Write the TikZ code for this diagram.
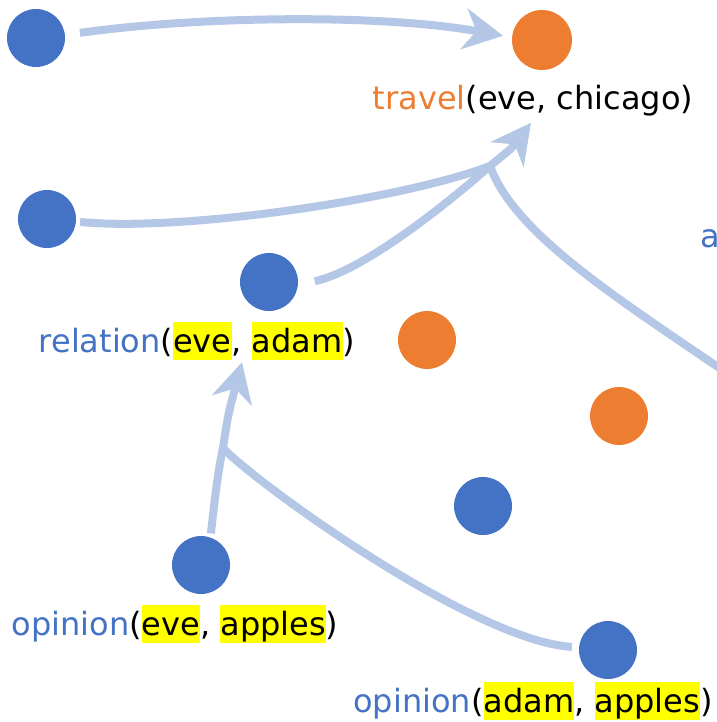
\documentclass[tikz,border=0pt]{standalone}
\usepackage{fontspec}
\setmainfont{DejaVu Sans}
\usepackage{xcolor}
\usepackage{tikz}
\usetikzlibrary{
  arrows.meta,
  positioning,
}

\definecolor{nodeblue}{HTML}{4472C4}
\definecolor{nodeorange}{HTML}{ED7D31}
\definecolor{linkblue}{HTML}{B4C7E7}
\definecolor{hlyellow}{HTML}{FFFF00}

\newcommand{\hlword}[1]{{\setlength{\fboxsep}{0pt}%
  \colorbox{hlyellow}{\rule[-0.25em]{0pt}{1.2em}#1}}}

\begin{document}
\begin{tikzpicture}[
  x=1pt, y=-1pt,
  font=\fontsize{32}{38}\selectfont,
  dot/.style={circle, minimum size=58pt, inner sep=0pt},
  bluedot/.style={dot, fill=nodeblue},
  orangedot/.style={dot, fill=nodeorange},
  atom/.style={anchor=base, inner sep=0pt},
  link/.style={draw=linkblue, line width=8pt},
  arrow/.style={link, -{Stealth[length=40pt, width=42pt, inset=13pt, line width=0pt]}},
]
\useasboundingbox (0,0) rectangle (716,722);

%% atoms
\node[bluedot] (src) at (36,38) {};
\node[orangedot, minimum size=60pt] (travel) at (542,40) {};
\node[bluedot] (left) at (47,219) {};
\node[bluedot] (rel) at (269,282) {};
\node[orangedot] (midA) at (427,340) {};
\node[orangedot] (midB) at (619,416) {};
\node[bluedot] (midC) at (483,506) {};
\node[bluedot] (opeve) at (201,565) {};
\node[bluedot] (opadam) at (608,650) {};

%% labels
\node[atom] (travellbl) at (533,110)
  {\textcolor{nodeorange}{travel}(eve, chicago)};
\node[atom] (rellbl) at (197,352)
  {\textcolor{nodeblue}{relation}(\hlword{eve}, \hlword{adam})};
\node[atom] (opevelbl) at (175,635)
  {\textcolor{nodeblue}{opinion}(\hlword{eve}, \hlword{apples})};
\node[atom] (opadamlbl) at (533,712)
  {\textcolor{nodeblue}{opinion}(\hlword{adam}, \hlword{apples})};
\node[atom, anchor=base west, text=nodeblue] (cutlbl) at (700,247) {a};

%% single edge on top
\draw[arrow, shorten <=15pt, shorten >=9pt]
  (src.6) .. controls (200,16) and (380,14) .. (travel.175);

%% hyperedge into travel
\coordinate (jtop) at (490,166);
\coordinate (offright) at (740,382);
\draw[link, shorten <=4pt] (left.-5) .. controls (180,232) and (400,200) .. (jtop);
\draw[link, shorten <=17pt] (rel.-5) .. controls (360,272) and (440,210) .. (jtop);
\draw[link] (offright) .. controls (620,300) and (515,235) .. (jtop);
\draw[arrow] (jtop) .. controls (512,148) .. ([xshift=-2pt, yshift=-6pt]travellbl.south);

%% hyperedge into relation
\coordinate (jbot) at (223,448);
\draw[link, shorten <=4pt] (opeve.71) .. controls (214,505) and (218,470) .. (jbot);
\draw[link, shorten <=7pt] (opadam.175) .. controls (470,640) and (250,478) .. (jbot);
\draw[arrow] (jbot) .. controls (228,415) .. ([xshift=45pt, yshift=-2pt]rellbl.south);

\end{tikzpicture}
\end{document}
